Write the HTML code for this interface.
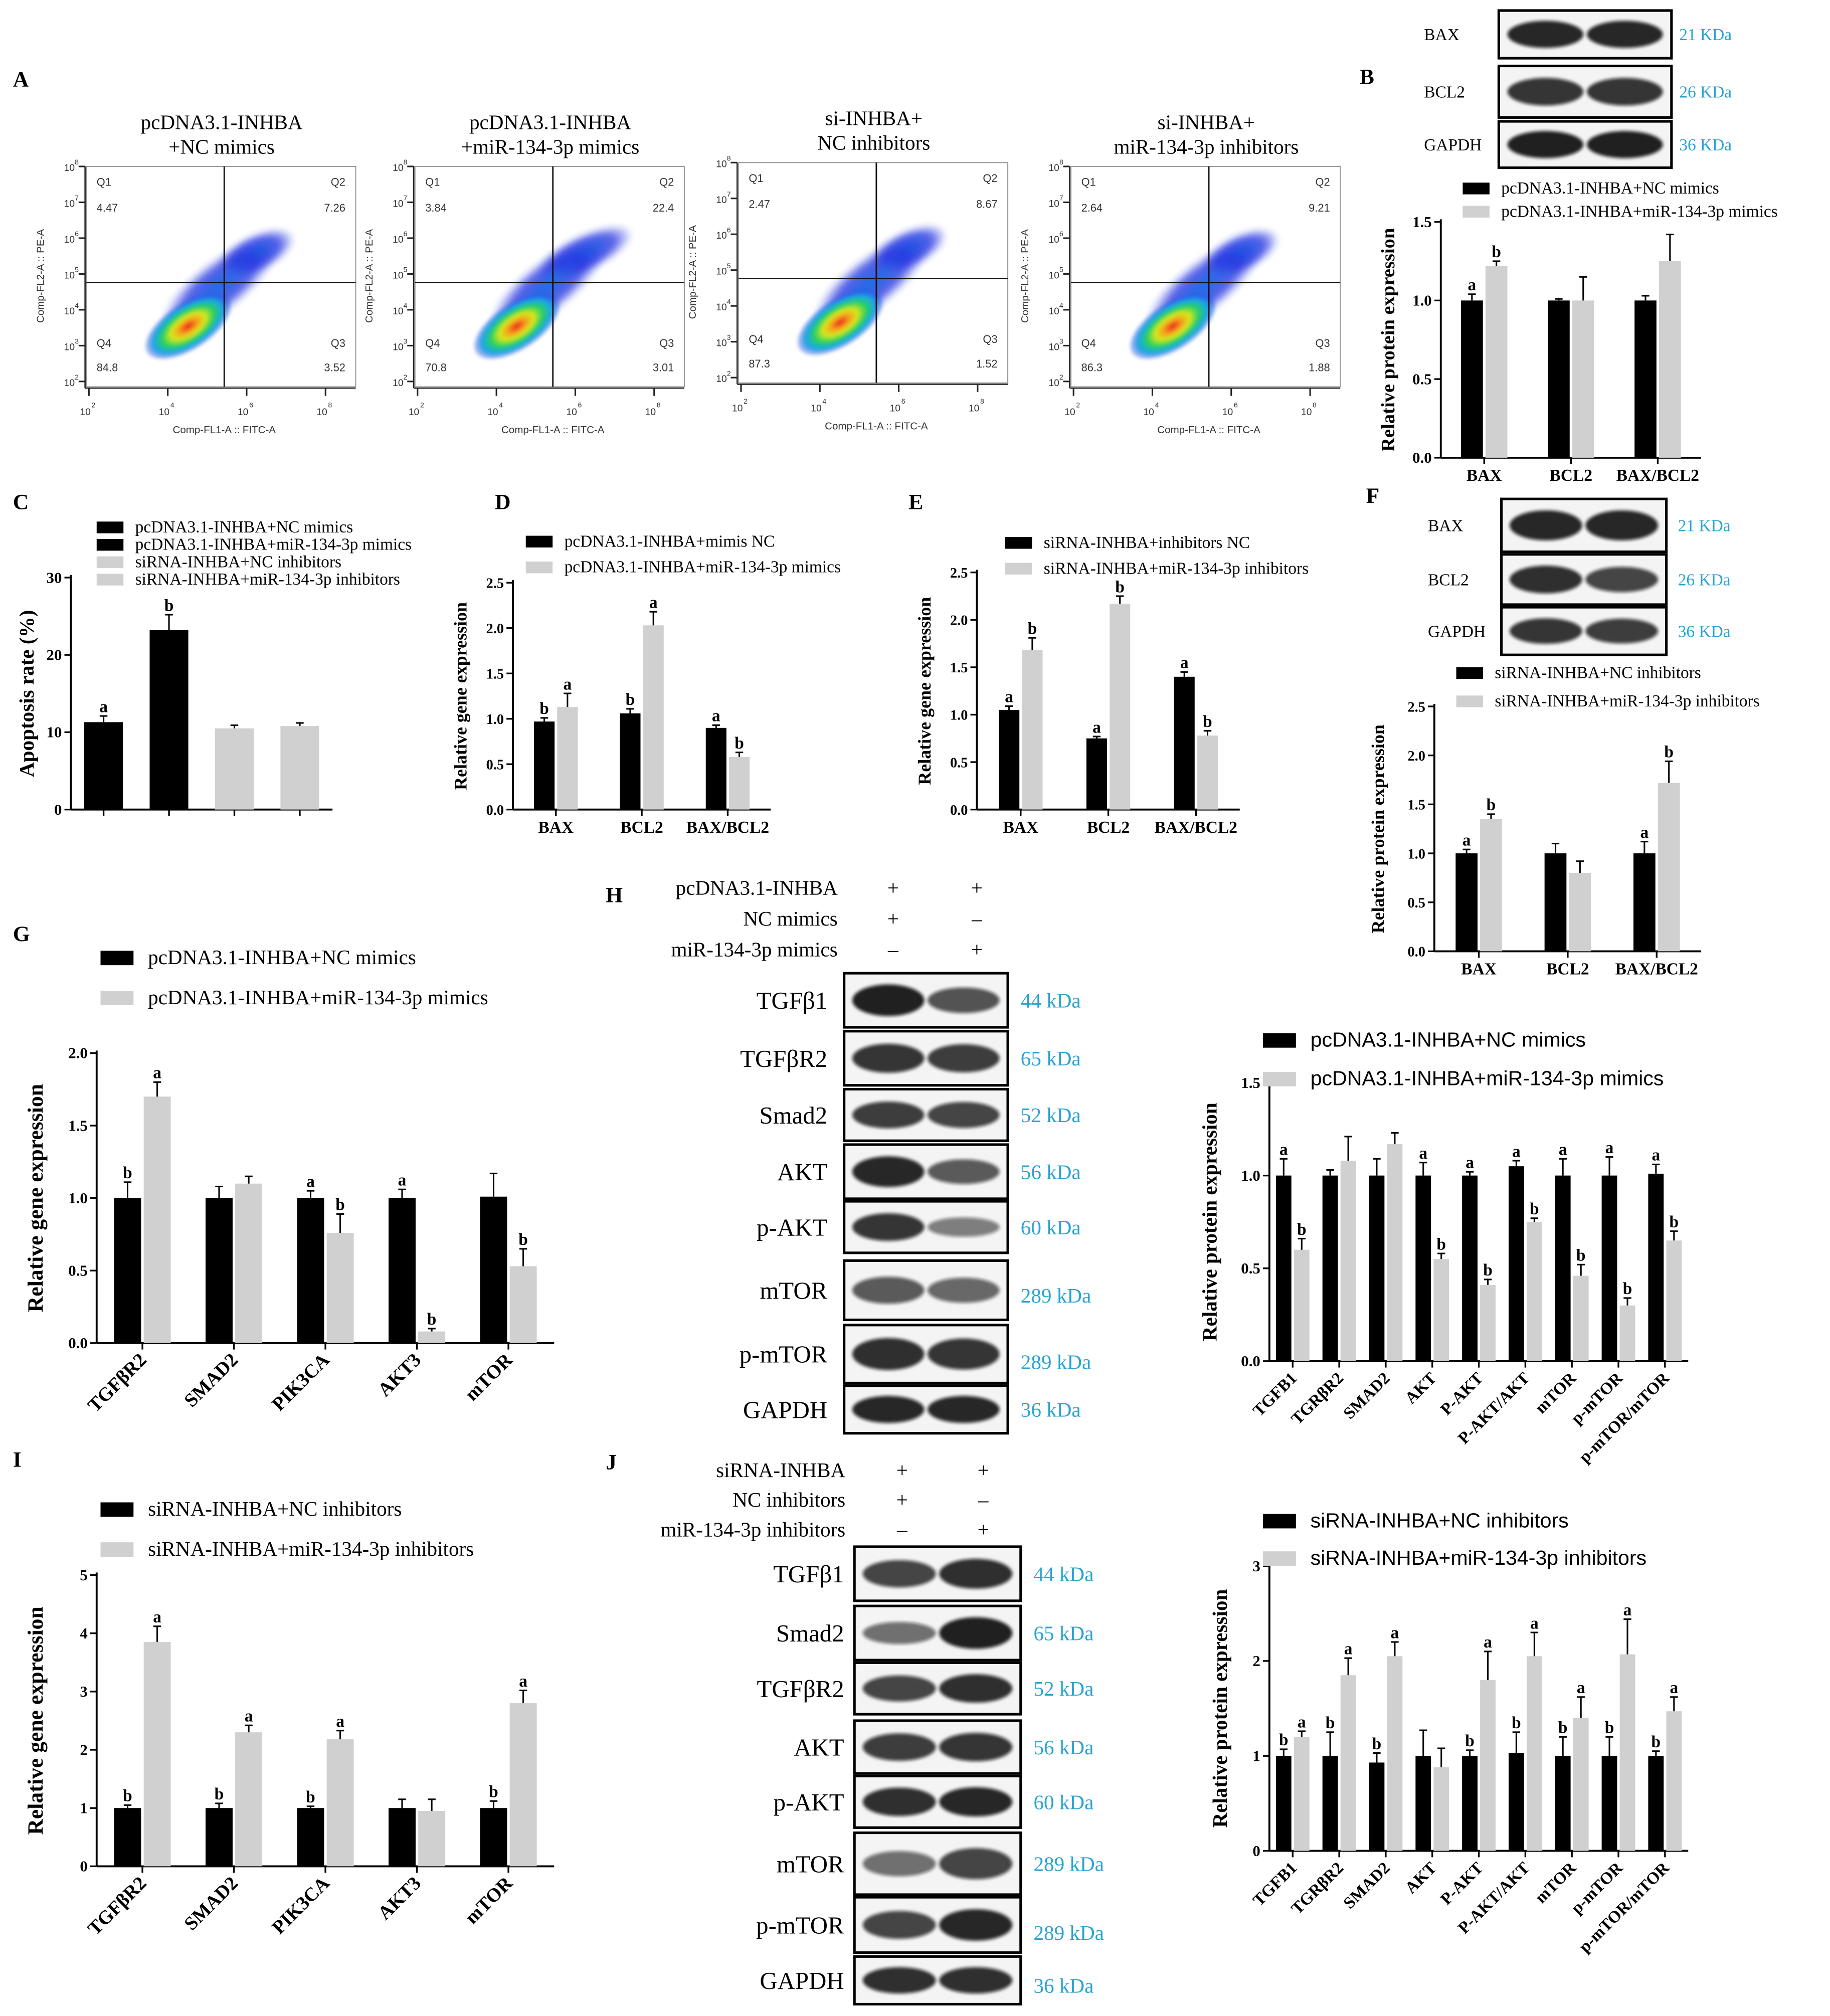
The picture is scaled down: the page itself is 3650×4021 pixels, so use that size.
<!DOCTYPE html>
<html><head><meta charset="utf-8">
<style>
html,body{margin:0;padding:0;background:#fff;}
svg{display:block;}
.t{font-family:"Liberation Serif",serif;}
.s{font-family:"Liberation Sans",sans-serif;}
</style></head>
<body>
<svg id="fig" xmlns="http://www.w3.org/2000/svg" width="3650" height="4021" viewBox="0 0 1420 1564">
<defs>
<radialGradient id="dens" cx="0.5" cy="0.5" r="0.5">
<stop offset="0" stop-color="#e8201a"/><stop offset="0.22" stop-color="#f6a21a"/><stop offset="0.4" stop-color="#d6e81c"/><stop offset="0.6" stop-color="#28d060"/><stop offset="0.8" stop-color="#1aa6e8"/><stop offset="1" stop-color="#1a3fe0" stop-opacity="0.2"/>
</radialGradient>
<radialGradient id="blue" cx="0.5" cy="0.5" r="0.5">
<stop offset="0" stop-color="#1b6ee8"/><stop offset="0.6" stop-color="#2030e0" stop-opacity="0.75"/><stop offset="1" stop-color="#2030e0" stop-opacity="0"/>
</radialGradient>
<filter id="bl"><feGaussianBlur stdDeviation="1.2"/></filter>
<filter id="bb"><feGaussianBlur stdDeviation="2.2"/></filter>
</defs>
<g id="root"></g>
</svg>
<script>
// ---------- data ----------
const flowTitles1 = ["pcDNA3.1-INHBA","pcDNA3.1-INHBA","si-INHBA+","si-INHBA+"];
const flowTitles2 = ["+NC mimics","+miR-134-3p mimics","NC inhibitors","miR-134-3p inhibitors"];
const flowQ1 = ["4.47","3.84","2.47","2.64"];
const flowQ2 = ["7.26","22.4","8.67","9.21"];
const flowQ3 = ["3.52","3.01","1.52","1.88"];
const flowQ4 = ["84.8","70.8","87.3","86.3"];

const catsB = ["BAX","BCL2","BAX/BCL2"];
const b1 = [1.0,1.0,1.0], b2 = [1.22,1.0,1.25];
const be1 = [0.04,0.01,0.03], be2 = [0.03,0.15,0.17];
const bl1 = ["a","",""], bl2 = ["b","",""];

const catsC = ["","","",""];
const c1 = [11.3,23.2,10.5,10.8];
const ce1 = [0.8,2.0,0.4,0.4];
const cl1 = ["a","b","",""];

const catsD = ["BAX","BCL2","BAX/BCL2"];
const d1 = [0.97,1.06,0.9], d2 = [1.13,2.03,0.58];
const de1 = [0.04,0.05,0.03], de2 = [0.15,0.15,0.05];
const dl1 = ["b","b","a"], dl2 = ["a","a","b"];

const catsE = ["BAX","BCL2","BAX/BCL2"];
const e1 = [1.05,0.75,1.4], e2 = [1.68,2.17,0.78];
const ee1 = [0.04,0.02,0.05], ee2 = [0.13,0.08,0.05];
const el1 = ["a","a","a"], el2 = ["b","b","b"];

const catsF = ["BAX","BCL2","BAX/BCL2"];
const f1 = [1.0,1.0,1.0], f2 = [1.35,0.8,1.72];
const fe1 = [0.04,0.1,0.12], fe2 = [0.05,0.12,0.22];
const fl1 = ["a","","a"], fl2 = ["b","","b"];

const catsG = ["TGF\u03b2R2","SMAD2","PIK3CA","AKT3","mTOR"];
const g1 = [1.0,1.0,1.0,1.0,1.01], g2 = [1.7,1.1,0.76,0.08,0.53];
const ge1 = [0.11,0.08,0.05,0.06,0.16], ge2 = [0.1,0.05,0.13,0.02,0.12];
const gl1 = ["b","","a","a",""], gl2 = ["a","","b","b","b"];

const catsH = ["TGFB1","TGR\u03b2R2","SMAD2","AKT","P-AKT","P-AKT/AKT","mTOR","p-mTOR","p-mTOR/mTOR"];
const h1 = [1.0,1.0,1.0,1.0,1.0,1.05,1.0,1.0,1.01], h2 = [0.6,1.08,1.17,0.55,0.41,0.75,0.46,0.3,0.65];
const he1 = [0.09,0.03,0.09,0.07,0.02,0.03,0.09,0.1,0.05], he2 = [0.06,0.13,0.06,0.03,0.03,0.02,0.06,0.04,0.05];
const hl1 = ["a","","","a","a","a","a","a","a"], hl2 = ["b","","","b","b","b","b","b","b"];

const catsI = ["TGF\u03b2R2","SMAD2","PIK3CA","AKT3","mTOR"];
const i1 = [1.0,1.0,1.0,1.0,1.0], i2 = [3.85,2.3,2.18,0.95,2.8];
const ie1 = [0.05,0.08,0.03,0.15,0.12], ie2 = [0.27,0.12,0.15,0.2,0.22];
const il1 = ["b","b","b","","b"], il2 = ["a","a","a","","a"];

const catsJ = ["TGFB1","TGR\u03b2R2","SMAD2","AKT","P-AKT","P-AKT/AKT","mTOR","p-mTOR","p-mTOR/mTOR"];
const j1 = [1.0,1.0,0.93,1.0,1.0,1.03,1.0,1.0,1.0], j2 = [1.2,1.85,2.05,0.88,1.8,2.05,1.4,2.07,1.47];
const je1 = [0.07,0.25,0.1,0.27,0.06,0.22,0.2,0.2,0.05], je2 = [0.06,0.18,0.15,0.2,0.3,0.25,0.22,0.37,0.15];
const jl1 = ["b","b","b","","b","b","b","b","b"], jl2 = ["a","a","a","","a","a","a","a","a"];

// ---------- helpers ----------
const NS="http://www.w3.org/2000/svg";
const root=document.getElementById('root');
function mk(tag,attrs,parent,txt){const e=document.createElementNS(NS,tag);for(const k in attrs)e.setAttribute(k,attrs[k]);if(txt!==undefined)e.textContent=txt;(parent||root).appendChild(e);return e;}
function txt(x,y,s,size,opts,parent){opts=opts||{};const e=mk('text',{x:x,y:y,'font-size':size,'class':opts.cls||'t','text-anchor':opts.anchor||'start','font-weight':opts.bold?'bold':'normal',fill:opts.fill||'#000'},parent,s);if(opts.rot)e.setAttribute('transform','rotate('+opts.rot+' '+x+' '+y+')');return e;}

function panelLetter(x,y,l){const e=txt(x,y,l,17,{bold:true});

}

// ---------- flow cytometry ----------
function flow(k,ox,oy){
  const g=mk('g',{transform:'translate('+ox+','+oy+')'});
  
  
  const x0=67,x1=276,y0=129,y1=300,cx=174,cy=219;
  const t1=txt(172,100,flowTitles1[k],16,{anchor:'middle'},g);
  
  
  txt(172,119,flowTitles2[k],16,{anchor:'middle'},g);
  mk('rect',{x:x0,y:y0,width:x1-x0,height:y1-y0,fill:'none',stroke:'#999','stroke-width':0.8},g);
  const bg=mk('g',{},g);
  const up=k===1?1.25:1;
  mk('ellipse',{cx:199,cy:196,rx:32*up,ry:15,fill:'url(#blue)',transform:'rotate(-25 199 196)',filter:'url(#bb)'},bg);
  mk('ellipse',{cx:170,cy:222,rx:55,ry:20,fill:'url(#blue)',transform:'rotate(-38 170 222)',filter:'url(#bb)'},bg);
  mk('ellipse',{cx:146,cy:253,rx:38,ry:18,fill:'url(#dens)',transform:'rotate(-33 146 253)',filter:'url(#bl)'},bg);
  mk('line',{x1:x0,y1:cy,x2:x1,y2:cy,stroke:'#111','stroke-width':1.1},g);
  mk('line',{x1:cx,y1:y0,x2:cx,y2:y1,stroke:'#111','stroke-width':1.1},g);
  mk('line',{x1:x0-1,y1:y0,x2:x0-1,y2:y1+1,stroke:'#222','stroke-width':1},g);
  mk('line',{x1:x0-1,y1:y1+1,x2:x1,y2:y1+1,stroke:'#222','stroke-width':1},g);
  const yl=['8','7','6','5','4','3','2'];
  for(let i=0;i<7;i++){const y=y0+i*(y1-y0)/6.15;mk('line',{x1:x0-6,y1:y,x2:x0-1,y2:y,stroke:'#222','stroke-width':1.2},g);
    txt(x0-9,y+3.5,'10',7.5,{cls:'s',anchor:'end',fill:'#333'},g);txt(x0-9,y-1.5,yl[i],5.5,{cls:'s',fill:'#333'},g);}
  const xl=['2','4','6','8'];
  for(let i=0;i<4;i++){const x=x0+2+i*(x1-x0-4)/3.35;mk('line',{x1:x,y1:y1+1,x2:x,y2:y1+7,stroke:'#222','stroke-width':1.2},g);
    txt(x-7,y1+22,'10',7.5,{cls:'s',fill:'#333'},g);txt(x+2,y1+16,xl[i],5.5,{cls:'s',fill:'#333'},g);}
  txt(174,y1+36,'Comp-FL1-A :: FITC-A',8,{cls:'s',anchor:'middle',fill:'#333'},g);
  txt(x0-33,214,'Comp-FL2-A :: PE-A',8,{cls:'s',anchor:'middle',fill:'#333',rot:-90},g);
  txt(x0+8,y0+15,'Q1',8.5,{cls:'s',fill:'#333'},g);txt(x0+8,y0+35,flowQ1[k],8.5,{cls:'s',fill:'#333'},g);
  txt(x1-8,y0+15,'Q2',8.5,{cls:'s',fill:'#333',anchor:'end'},g);txt(x1-8,y0+35,flowQ2[k],8.5,{cls:'s',fill:'#333',anchor:'end'},g);
  txt(x0+8,y1-31,'Q4',8.5,{cls:'s',fill:'#333'},g);txt(x0+8,y1-12,flowQ4[k],8.5,{cls:'s',fill:'#333'},g);
  txt(x1-8,y1-31,'Q3',8.5,{cls:'s',fill:'#333',anchor:'end'},g);txt(x1-8,y1-12,flowQ3[k],8.5,{cls:'s',fill:'#333',anchor:'end'},g);
}
flow(0,0,0);flow(1,255,0);flow(2,506,-3);flow(3,764,0);

// ---------- bar charts ----------
function chart(name,ax,ax1,yz,ymax,vmax,ticks,dec,cats,s1,s2,er1,er2,l1,l2,rot,ylab,opts){
  opts=opts||{};
  const g=mk('g',{});
  
  
  const Y=v=>yz-(v/vmax)*(yz-ymax);
  const n=cats.length,band=(ax1-ax)/n;
  const bw=opts.bw||band*0.3;
  mk('line',{x1:ax,y1:Y(vmax)-2,x2:ax,y2:yz,stroke:'#000','stroke-width':1.5},g);
  mk('line',{x1:ax,y1:yz,x2:ax1,y2:yz,stroke:'#000','stroke-width':1.5},g);
  ticks.forEach(v=>{const y=Y(v);mk('line',{x1:ax-5,y1:y,x2:ax,y2:y,stroke:'#000','stroke-width':1.3},g);
    const tl=txt(ax-7,y+4,v.toFixed(dec),opts.tf||12,{anchor:'end',bold:true},g);
    
    });
  const yl=txt(opts.ylx||ax-34,(Y(vmax)+yz)/2,ylab,opts.yf||15,{anchor:'middle',bold:true,rot:-90},g);
  
  
  for(let i=0;i<n;i++){
    const c=ax+band*(i+0.5);
    mk('line',{x1:c,y1:yz,x2:c,y2:yz+5,stroke:'#000','stroke-width':1.3},g);
    const series=s2?[[s1,er1,l1,'#000',c-bw-1],[s2,er2,l2,'#d0d0d0',c+1]]:[[s1,er1,l1,opts.colors[i],c-bw/2]];
    series.forEach((s,si)=>{
      const v=s[0][i],x=s[4],y=Y(v);
      const r=mk('rect',{x:x,y:y,width:bw,height:yz-y,fill:s[3]},g);
      
      
      const ye=Y(v+s[1][i]);
      mk('line',{x1:x+bw/2,y1:y,x2:x+bw/2,y2:ye,stroke:'#000','stroke-width':1.2},g);
      mk('line',{x1:x+bw/2-3,y1:ye,x2:x+bw/2+3,y2:ye,stroke:'#000','stroke-width':1.2},g);
      if(s[2][i]){const lt=txt(x+bw/2,ye-3,s[2][i],opts.lf||13,{anchor:'middle',bold:true},g);
        
        }
    });
    if(cats[i]){
      let cl;
      if(rot) cl=txt(c+4,yz+14,cats[i],opts.cf||14,{anchor:'end',bold:true,rot:-45},g);
      else cl=txt(c,yz+18,cats[i],opts.cf||13,{anchor:'middle',bold:true},g);
      
      
    }
  }
  return g;
}
function legend(x,y,labels,size,gap,cls,colors){
  labels.forEach((l,i)=>{
    const r=mk('rect',{x:x,y:y+i*gap-size*0.65,width:size*1.6,height:size*0.7,fill:colors[i]});
    
    
    const t=txt(x+size*2.3,y+i*gap,l,size,{cls:cls});
    
    
  });
}
const BK=['#000','#d0d0d0','#d0d0d0','#d0d0d0'];

chart('chart-b',1118,1320,355,172,1.5,[0,0.5,1.0,1.5],1,catsB,b1,b2,be1,be2,bl1,bl2,false,'Relative protein expression',{bw:17,ylx:1082});
legend(1135,150,['pcDNA3.1-INHBA+NC mimics','pcDNA3.1-INHBA+miR-134-3p mimics'],13,18,'t',BK);
chart('chart-c',55,258,628,448,30,[0,10,20,30],0,catsC,c1,null,ce1,null,cl1,null,false,'Apoptosis rate (%)',{colors:['#000','#000','#d0d0d0','#d0d0d0'],bw:30,ylx:26,yf:16});
legend(75,413,['pcDNA3.1-INHBA+NC mimics','pcDNA3.1-INHBA+miR-134-3p mimics','siRNA-INHBA+NC inhibitors','siRNA-INHBA+miR-134-3p inhibitors'],13,13.5,'t',['#000','#000','#d0d0d0','#d0d0d0']);
chart('chart-d',398,598,628,452,2.5,[0,0.5,1.0,1.5,2.0,2.5],1,catsD,d1,d2,de1,de2,dl1,dl2,false,'Relative gene expression',{bw:16,tf:11,ylx:362,yf:14});
legend(408,424,['pcDNA3.1-INHBA+mimis NC','pcDNA3.1-INHBA+miR-134-3p mimics'],13,20,'t',BK);
chart('chart-e',758,962,628,444,2.5,[0,0.5,1.0,1.5,2.0,2.5],1,catsE,e1,e2,ee1,ee2,el1,el2,false,'Relative gene expression',{bw:16,tf:11,ylx:722,yf:14});
legend(780,425,['siRNA-INHBA+inhibitors NC','siRNA-INHBA+miR-134-3p inhibitors'],13,20,'t',BK);
chart('chart-f',1113,1320,738,548,2.5,[0,0.5,1.0,1.5,2.0,2.5],1,catsF,f1,f2,fe1,fe2,fl1,fl2,false,'Relative protein expression',{bw:17,tf:11,ylx:1074,yf:14});
legend(1130,526,['siRNA-INHBA+NC inhibitors','siRNA-INHBA+miR-134-3p inhibitors'],13,22,'t',BK);
chart('chart-g',75,430,1042,817,2.0,[0,0.5,1.0,1.5,2.0],1,catsG,g1,g2,ge1,ge2,gl1,gl2,true,'Relative gene expression',{bw:21,ylx:33,yf:17,cf:15});
legend(78,748,['pcDNA3.1-INHBA+NC mimics','pcDNA3.1-INHBA+miR-134-3p mimics'],16,31,'t',BK);
chart('chart-h',985,1310,1056,840,1.5,[0,0.5,1.0,1.5],1,catsH,h1,h2,he1,he2,hl1,hl2,true,'Relative protein expression',{bw:12,ylx:944,yf:16,cf:13});
legend(980,812,['pcDNA3.1-INHBA+NC mimics','pcDNA3.1-INHBA+miR-134-3p mimics'],16,30,'s',BK);
chart('chart-i',75,430,1448,1222,5,[0,1,2,3,4,5],0,catsI,i1,i2,ie1,ie2,il1,il2,true,'Relative gene expression',{bw:21,ylx:33,yf:17,cf:15});
legend(78,1176,['siRNA-INHBA+NC inhibitors','siRNA-INHBA+miR-134-3p inhibitors'],16,31,'t',BK);
chart('chart-j',985,1310,1436,1215,3,[0,1,2,3],0,catsJ,j1,j2,je1,je2,jl1,jl2,true,'Relative protein expression',{bw:12,ylx:952,yf:16,cf:13});
legend(980,1185,['siRNA-INHBA+NC inhibitors','siRNA-INHBA+miR-134-3p inhibitors'],16,29,'s',BK);

// ---------- western blots ----------
const KC='#29a3d4';
function blot(name,x0,x1,rows,lx,kx,fs,ks,anchor){
  const g=mk('g',{});
  
  
  rows.forEach(r=>{
    const [lab,ya,yb,kd,i1,i2]=r;
    mk('rect',{x:x0,y:ya,width:x1-x0,height:yb-ya,fill:'#f4f4f4',stroke:'#000','stroke-width':2},g);
    const w=(x1-x0),cy=(ya+yb)/2,h=(yb-ya);
    [[x0+w*0.27,i1],[x0+w*0.73,i2]].forEach(b=>{
      mk('ellipse',{cx:b[0],cy:cy,rx:w*0.22,ry:h*0.14+h*0.16*b[1],fill:'#111','fill-opacity':0.35+0.6*b[1],filter:'url(#bl)'},g);
    });
    const t=txt(lx,cy+fs*0.35,lab,fs,{anchor:anchor},g);
    
    
    const k=txt(kx,cy+ks*0.35+(r[6]||0),kd,ks,{fill:KC},g);
    
    
  });
}
blot('blot-b',1163,1297,[['BAX',8,45,'21 KDa',0.9,0.9],['BCL2',51,91,'26 KDa',0.8,0.8],['GAPDH',94,130,'36 KDa',0.95,0.95]],1105,1303,13,13,'start');
blot('blot-f',1165,1293,[['BAX',387,428,'21 KDa',0.9,0.9],['BCL2',430,469,'26 KDa',0.85,0.7],['GAPDH',471,508,'36 KDa',0.8,0.75]],1108,1302,13,13,'start');
blot('blot-h',655,782,[['TGF\u03b21',755,797,'44 kDa',0.95,0.6],['TGF\u03b2R2',800,842,'65 kDa',0.8,0.75],['Smad2',845,885,'52 kDa',0.75,0.7],['AKT',888,930,'56 kDa',0.9,0.55],['p-AKT',932,972,'60 kDa',0.8,0.3],['mTOR',978,1024,'289 kDa',0.55,0.45,4],['p-mTOR',1028,1073,'289 kDa',0.85,0.8,6],['GAPDH',1075,1112,'36 kDa',0.9,0.9]],642,792,19,16,'end');
blot('blot-j',663,792,[['TGF\u03b21',1200,1242,'44 kDa',0.7,0.85],['Smad2',1246,1288,'65 kDa',0.4,0.95],['TGF\u03b2R2',1290,1330,'52 kDa',0.7,0.85],['AKT',1335,1376,'56 kDa',0.75,0.8],['p-AKT',1378,1418,'60 kDa',0.85,0.9],['mTOR',1422,1470,'289 kDa',0.4,0.7],['p-mTOR',1472,1515,'289 kDa',0.7,0.9,6],['GAPDH',1518,1555,'36 kDa',0.85,0.85,4]],655,802,19,16,'end');

function ttable(rows,lx,c1,c2,y0,gap){
  rows.forEach((r,i)=>{
    const y=y0+i*gap;
    const t=txt(lx,y,r[0],16,{anchor:'end'});
    
    
    txt(c1,y,r[1],16,{anchor:'middle'});txt(c2,y,r[2],16,{anchor:'middle'});
  });
}
ttable([['pcDNA3.1-INHBA','+','+'],['NC mimics','+','\u2013'],['miR-134-3p mimics','\u2013','+']],650,693,758,694,24);
ttable([['siRNA-INHBA','+','+'],['NC inhibitors','+','\u2013'],['miR-134-3p inhibitors','\u2013','+']],656,700,763,1146,23);

[['A',10,67],['B',1055,65],['C',10,395],['D',384,395],['E',705,395],['F',1060,390],['G',10,730],['H',470,700],['I',10,1138],['J',470,1140]].forEach(p=>panelLetter(p[1],p[2],p[0]));
</script>
</body></html>
